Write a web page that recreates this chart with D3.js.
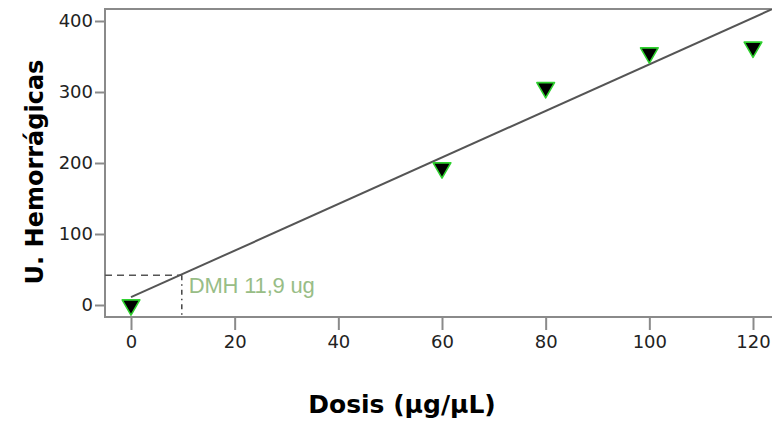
<!DOCTYPE html>
<html>
<head>
<meta charset="utf-8">
<script src="https://cdn.jsdelivr.net/npm/d3@7"></script>
<style>
  html, body { margin: 0; padding: 0; background: #fff; }
  svg { display: block; }
</style>
</head>
<body>
<svg id="chart" width="772" height="425"></svg>
<script>
// ---- data ----
const doses = [0, 60, 80, 100, 120];
const units = [0, 193, 306, 355, 363];
const xTicks = [0, 20, 40, 60, 80, 100, 120];
const yTicks = [0, 100, 200, 300, 400];
const fitX = [0, 130];
const fitY = [11, 437.4];
const dmhX = [9.8];
const dmhY = [42];
const dmhLabel = "DMH 11,9 ug";
const xTitle = "Dosis (µg/µL)";
const yTitle = "U. Hemorrágicas";

// ---- layout ----
const svg = d3.select("#chart");
const box = { left: 105, top: 9, right: 800, bottom: 317 };
const x = d3.scaleLinear().domain([0, 120]).range([131, 753]);
const y = d3.scaleLinear().domain([0, 400]).range([305, 21]);
const axisColor = "#8a8a8a";

svg.append("defs").append("clipPath").attr("id", "clip")
  .append("rect")
  .attr("x", box.left).attr("y", box.top)
  .attr("width", box.right - box.left).attr("height", box.bottom - box.top);

// frame (top + left + bottom)
svg.append("path")
  .attr("d", `M${box.right},${box.top}H${box.left}V${box.bottom}H${box.right}`)
  .attr("fill", "none").attr("stroke", axisColor).attr("stroke-width", 2);

// y axis
const yAxis = d3.axisLeft(y).tickValues(yTicks).tickSize(10).tickPadding(2);
const gy = svg.append("g").attr("transform", `translate(${box.left},0)`).call(yAxis);
gy.select(".domain").remove();
gy.selectAll(".tick line").attr("stroke", axisColor).attr("stroke-width", 2);
gy.selectAll(".tick text")
  .attr("font-family", "DejaVu Sans").attr("font-size", 18)
  .attr("fill", "#222");

// x axis
const xAxis = d3.axisBottom(x).tickValues(xTicks).tickSize(13).tickPadding(5);
const gx = svg.append("g").attr("transform", `translate(0,${box.bottom})`).call(xAxis);
gx.select(".domain").remove();
gx.selectAll(".tick line").attr("stroke", axisColor).attr("stroke-width", 2);
gx.selectAll(".tick text")
  .attr("font-family", "DejaVu Sans").attr("font-size", 18)
  .attr("fill", "#222");

// DMH dashed guides
const gx0 = x(dmhX[0]), gy0 = y(dmhY[0]);
svg.append("line")
  .attr("x1", box.left).attr("x2", gx0).attr("y1", gy0).attr("y2", gy0)
  .attr("stroke", "#555").attr("stroke-width", 1.5).attr("stroke-dasharray", "7,5");
svg.append("line")
  .attr("x1", gx0).attr("x2", gx0).attr("y1", gy0).attr("y2", box.bottom)
  .attr("stroke", "#444").attr("stroke-width", 1.5).attr("stroke-dasharray", "5,4,1.5,4");

// regression line
const fit = fitX.map((v, i) => [v, fitY[i]]);
svg.append("path")
  .datum(fit)
  .attr("clip-path", "url(#clip)")
  .attr("d", d3.line().x(d => x(d[0])).y(d => y(d[1])))
  .attr("fill", "none").attr("stroke", "#555").attr("stroke-width", 2);

// DMH label
svg.append("text")
  .attr("x", gx0 + 7).attr("y", gy0 + 18)
  .attr("font-family", "Liberation Sans, Arial").attr("font-size", 22)
  .attr("fill", "#98bd86").attr("letter-spacing", -0.2)
  .text(dmhLabel);

// points (downward triangles)
const tri = d3.symbol().type(d3.symbolTriangle).size(135);
svg.append("g").selectAll("path")
  .data(doses.map((d, i) => [d, units[i]]))
  .join("path")
  .attr("d", tri)
  .attr("transform", d => `translate(${x(d[0])},${y(d[1])}) rotate(180)`)
  .attr("fill", "#000").attr("stroke", "#2fd12f").attr("stroke-width", 1.6)
  .attr("stroke-linejoin", "round");

// titles
svg.append("text")
  .attr("transform", "translate(43,172) rotate(-90)")
  .attr("text-anchor", "middle")
  .attr("font-family", "DejaVu Sans").attr("font-weight", "bold").attr("font-size", 24)
  .attr("fill", "#000")
  .text(yTitle);
svg.append("text")
  .attr("x", 402).attr("y", 413)
  .attr("text-anchor", "middle")
  .attr("font-family", "DejaVu Sans").attr("font-weight", "bold").attr("font-size", 25)
  .attr("fill", "#000")
  .text(xTitle);
</script>
</body>
</html>
